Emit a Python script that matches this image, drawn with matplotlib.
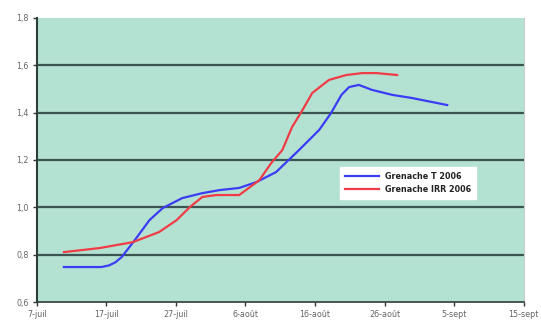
import matplotlib.pyplot as plt

# jours depuis le 7 juillet 2006
jours_t = [3.9, 9.3, 10.4, 11.3, 12.2, 14.1, 16.2, 18.1, 20.9, 23.8, 26.3, 29.1, 31.6, 34.4,
           37.7, 40.6, 42.3, 43.8, 44.9, 46.3, 48.2, 51.1, 53.9, 59.0]
grenache_t = [0.748, 0.748, 0.755, 0.768, 0.790, 0.862, 0.946, 0.997, 1.039, 1.060, 1.073, 1.082,
              1.107, 1.149, 1.242, 1.327, 1.398, 1.475, 1.508, 1.517, 1.496, 1.475, 1.462, 1.432]

jours_irr = [3.9, 9.0, 13.8, 17.6, 20.1, 22.0, 23.8, 25.8, 29.1, 32.0, 33.7, 35.3,
             36.7, 38.2, 39.6, 42.0, 44.5, 46.8, 48.8, 51.8]
grenache_irr = [0.811, 0.828, 0.853, 0.896, 0.946, 1.001, 1.044, 1.052, 1.052, 1.115, 1.187, 1.242,
                1.339, 1.411, 1.483, 1.538, 1.559, 1.567, 1.567, 1.559]

x_ticks = [0, 10, 20, 30, 40, 50, 60, 70]
x_labels = ['7-juil', '17-juil', '27-juil', '6-août', '16-août', '26-août', '5-sept', '15-sept']
y_ticks = [0.6, 0.8, 1.0, 1.2, 1.4, 1.6, 1.8]
y_labels = ['0,6', '0,8', '1,0', '1,2', '1,4', '1,6', '1,8']

fig = plt.figure(figsize=(5.41, 3.2), dpi=100)
ax = fig.add_axes([0.068, 0.056, 0.900, 0.888])
ax.set_facecolor('#b4e2d2')

# lignes horizontales du quadrillage
for v in y_ticks[1:-1]:
    ax.axhline(v, color='#3d5552', lw=1.6, zorder=1)

ax.plot(jours_t, grenache_t, color='#3c3cf5', lw=1.6, label='Grenache T 2006',
        solid_joinstyle='round', zorder=3)
ax.plot(jours_irr, grenache_irr, color='#f03c46', lw=1.6, label='Grenache IRR 2006',
        solid_joinstyle='round', zorder=3)

ax.set_xlim(0, 70)
ax.set_ylim(0.6, 1.8)
ax.set_xticks(x_ticks)
ax.set_xticklabels(x_labels)
ax.set_yticks(y_ticks)
ax.set_yticklabels(y_labels)
ax.tick_params(labelsize=5.8, colors='#666666', length=3, width=1, pad=3)
ax.tick_params(axis='both', color='#333333')

ax.spines['top'].set_visible(False)
ax.spines['right'].set_color('#cccccc')
ax.spines['left'].set_color('#2e3c3a')
ax.spines['left'].set_linewidth(1.5)
ax.spines['bottom'].set_color('#2e3c3a')
ax.spines['bottom'].set_linewidth(1.2)

leg = ax.legend(loc='upper left', bbox_to_anchor=(0.615, 0.49),
                frameon=True, fancybox=False, handlelength=4.2, borderpad=0.6,
                labelspacing=0.5, prop={'weight': 'bold', 'size': 5.8})
leg.get_frame().set_facecolor('white')
leg.get_frame().set_edgecolor('white')
leg.get_frame().set_alpha(1)
for t in leg.get_texts():
    t.set_color('#222222')

fig.savefig('out.png', dpi=100)
